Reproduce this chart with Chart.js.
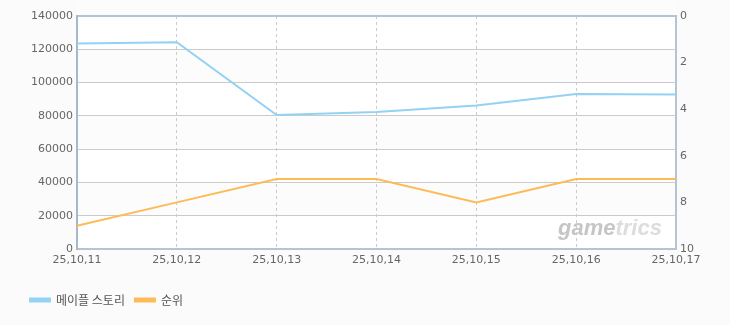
<!DOCTYPE html>
<html>
<head>
<meta charset="utf-8">
<script src="https://cdn.jsdelivr.net/npm/chart.js@4"></script>
<style>
  html, body { margin: 0; padding: 0; background: #fbfbfb; }
  #wrap { width: 730px; height: 325px; }
</style>
</head>
<body>
<div id="wrap"><canvas id="rankChart" width="730" height="325"></canvas></div>
<script>
// 날짜, 사용량, 순위
const dates = ['25,10,11', '25,10,12', '25,10,13', '25,10,14', '25,10,15', '25,10,16', '25,10,17'];
const usage = [123500, 124200, 80500, 82300, 86200, 93100, 92800];
const rank = [9, 8, 7, 7, 8, 7, 7];
const seriesNames = ['메이플 스토리', '순위'];

const blue = '#93d2f2';
const orange = '#fdbb58';
const frame = '#b3c4d6';
const gridColor = '#cbcbcb';

// 플롯 배경 + 워터마크
const backdrop = {
    id: 'backdrop',
    beforeDraw(chart) {
        const { ctx, chartArea: a, scales: { y } } = chart;
        ctx.save();
        ctx.fillStyle = '#ffffff';
        ctx.fillRect(a.left, a.top, a.right - a.left, a.bottom - a.top);
        ctx.fillStyle = '#fcfcfc';
        for (let v = 0; v < 140000; v += 40000) {
            const y1 = y.getPixelForValue(v + 40000), y0 = y.getPixelForValue(v + 20000);
            ctx.fillRect(a.left, y1, a.right - a.left, y0 - y1);
        }
        ctx.restore();
    },
    afterDatasetsDraw(chart) {
        const { ctx, chartArea: a } = chart;
        ctx.save();
        ctx.font = 'italic bold 22px "Liberation Sans"';
        ctx.textBaseline = 'alphabetic';
        ctx.fillStyle = '#c6c6c6';
        const x = a.right - 118, yy = a.bottom - 14;
        ctx.fillText('game', x, yy);
        const w = ctx.measureText('game').width;
        ctx.fillStyle = '#dddddd';
        ctx.fillText('trics', x + w, yy);
        ctx.restore();
    }
};

new Chart(document.getElementById('rankChart'), {
    type: 'line',
    data: {
        labels: dates,
        datasets: [
            {
                label: seriesNames[0],
                data: usage,
                yAxisID: 'y',
                borderColor: blue,
                backgroundColor: blue,
                borderWidth: 2,
                pointRadius: 0,
                tension: 0
            },
            {
                label: seriesNames[1],
                data: rank,
                yAxisID: 'y2',
                borderColor: orange,
                backgroundColor: orange,
                borderWidth: 2,
                pointRadius: 0,
                tension: 0
            }
        ]
    },
    options: {
        responsive: false,
        animation: false,
        layout: { padding: { top: 16, left: 20, right: 0, bottom: 9 } },
        plugins: {
            legend: {
                position: 'bottom',
                align: 'start',
                labels: {
                    boxWidth: 20,
                    boxHeight: 3,
                    padding: 10,
                    color: '#555555',
                    font: { family: '"Noto Sans CJK KR"', size: 12 }
                }
            },
            tooltip: { enabled: false }
        },
        scales: {
            x: {
                offset: false,
                afterFit: s => { s.height = 35; },
                grid: {
                    color: c => (c.index === 0 || c.index === dates.length - 1) ? 'transparent' : gridColor,
                    drawTicks: false
                },
                border: { display: false, dash: [3, 3] },
                ticks: {
                    padding: 5,
                    maxRotation: 0,
                    color: '#666666',
                    font: { family: '"DejaVu Sans"', size: 11 }
                }
            },
            y: {
                position: 'left',
                min: 0,
                max: 140000,
                afterFit: s => { s.width = 57; },
                grid: {
                    color: c => (c.tick.value === 0 || c.tick.value === 140000) ? frame : gridColor,
                    lineWidth: c => (c.tick.value === 0 || c.tick.value === 140000) ? 2 : 1,
                    drawTicks: false
                },
                border: { display: true, color: '#a6b8cc', width: 2 },
                ticks: {
                    stepSize: 20000,
                    padding: 4,
                    color: '#666666',
                    font: { family: '"DejaVu Sans"', size: 11 },
                    callback: v => String(v)
                }
            },
            y2: {
                position: 'right',
                min: 0,
                max: 10,
                reverse: true,
                afterFit: s => { s.width = 54; },
                grid: { drawOnChartArea: false, drawTicks: false },
                border: { display: true, color: frame, width: 2 },
                ticks: {
                    stepSize: 2,
                    padding: 4,
                    color: '#666666',
                    font: { family: '"DejaVu Sans"', size: 11 }
                }
            }
        }
    },
    plugins: [backdrop]
});
</script>
</body>
</html>
